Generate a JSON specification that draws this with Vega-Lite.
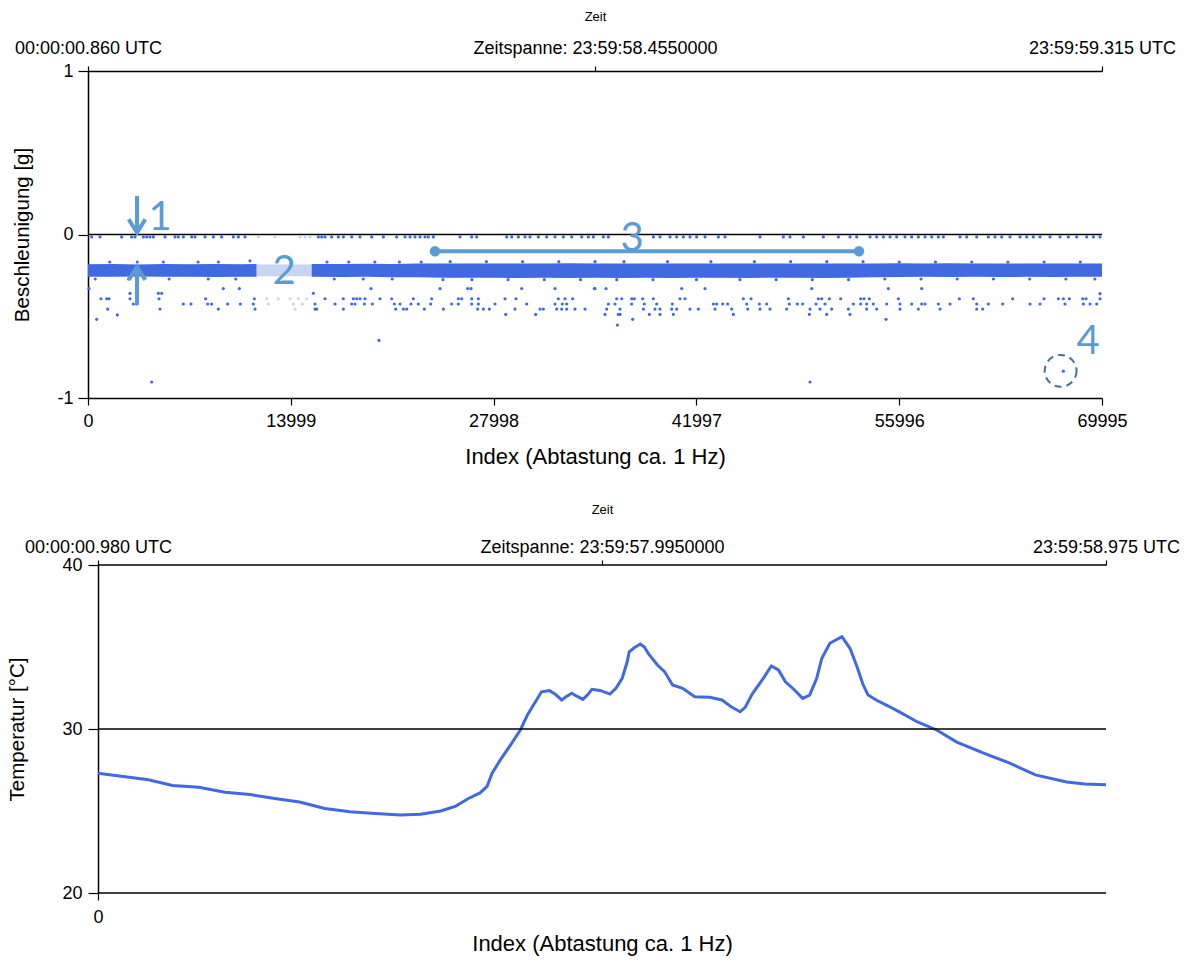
{
"$schema": "https://vega.github.io/schema/vega-lite/v6.json",
"background": "white",
"padding": {"left": 7, "top": 10, "right": 4, "bottom": 4},
"spacing": 35,
"config": {
  "view": {"stroke": null},
  "font": "Liberation Sans",
  "axis": {"labelFont": "Liberation Sans", "titleFont": "Liberation Sans", "labelColor": "#000", "titleColor": "#000", "tickColor": "#000", "domainColor": "#000", "titleFontWeight": "normal", "labelFontSize": 18, "titleFontSize": 22, "labelFlush": false, "labelOverlap": false, "labelLimit": 500, "domainWidth": 1.5, "tickWidth": 1.2, "gridColor": "#000", "gridWidth": 1.3, "gridOpacity": 1}
},
"datasets": {
  "span": [{"t": 0}, {"t": 1}],
  "zero": [{"i": 0, "i2": 69995, "v": 0}],
  "frame": [{"i": 0, "i2": 1000, "T": 20}, {"i": 0, "i2": 1000, "T": 30}, {"i": 0, "i2": 1000, "T": 40}],
  "band": [
    {"s":"a","i":0,"hi":-0.182,"lo":-0.258},{"s":"a","i":1750,"hi":-0.180,"lo":-0.259},{"s":"a","i":3500,"hi":-0.183,"lo":-0.257},{"s":"a","i":5250,"hi":-0.181,"lo":-0.259},{"s":"a","i":7000,"hi":-0.182,"lo":-0.258},{"s":"a","i":8750,"hi":-0.180,"lo":-0.260},{"s":"a","i":10500,"hi":-0.182,"lo":-0.258},{"s":"a","i":11645,"hi":-0.181,"lo":-0.258},
    {"s":"p","i":11645,"hi":-0.184,"lo":-0.256},{"s":"p","i":15440,"hi":-0.184,"lo":-0.256},
    {"s":"b","i":15440,"hi":-0.180,"lo":-0.259},{"s":"b","i":17500,"hi":-0.181,"lo":-0.260},{"s":"b","i":19250,"hi":-0.179,"lo":-0.259},{"s":"b","i":21000,"hi":-0.180,"lo":-0.261},{"s":"b","i":22750,"hi":-0.178,"lo":-0.262},{"s":"b","i":24500,"hi":-0.178,"lo":-0.265},{"s":"b","i":26250,"hi":-0.177,"lo":-0.264},{"s":"b","i":28000,"hi":-0.178,"lo":-0.265},{"s":"b","i":29750,"hi":-0.177,"lo":-0.266},{"s":"b","i":31500,"hi":-0.178,"lo":-0.265},{"s":"b","i":33250,"hi":-0.176,"lo":-0.266},{"s":"b","i":35000,"hi":-0.177,"lo":-0.265},{"s":"b","i":36750,"hi":-0.178,"lo":-0.266},{"s":"b","i":38500,"hi":-0.177,"lo":-0.265},{"s":"b","i":40250,"hi":-0.178,"lo":-0.266},{"s":"b","i":42000,"hi":-0.177,"lo":-0.264},{"s":"b","i":43750,"hi":-0.178,"lo":-0.265},{"s":"b","i":45500,"hi":-0.177,"lo":-0.266},{"s":"b","i":47250,"hi":-0.178,"lo":-0.264},{"s":"b","i":49000,"hi":-0.177,"lo":-0.265},{"s":"b","i":50750,"hi":-0.178,"lo":-0.266},{"s":"b","i":52500,"hi":-0.177,"lo":-0.264},{"s":"b","i":54250,"hi":-0.178,"lo":-0.262},{"s":"b","i":56000,"hi":-0.176,"lo":-0.260},{"s":"b","i":57750,"hi":-0.177,"lo":-0.259},{"s":"b","i":59500,"hi":-0.176,"lo":-0.260},{"s":"b","i":61250,"hi":-0.177,"lo":-0.259},{"s":"b","i":63000,"hi":-0.178,"lo":-0.260},{"s":"b","i":64750,"hi":-0.177,"lo":-0.259},{"s":"b","i":66500,"hi":-0.178,"lo":-0.260},{"s":"b","i":68250,"hi":-0.177,"lo":-0.259},{"s":"b","i":69995,"hi":-0.178,"lo":-0.259}
  ],
  "acc": [
    {"i":253,"v":-0.015},{"i":829,"v":-0.015},{"i":2324,"v":-0.015},{"i":3014,"v":-0.015},{"i":3245,"v":-0.015},{"i":3820,"v":-0.015},{"i":4050,"v":-0.015},{"i":4280,"v":-0.015},{"i":4510,"v":-0.015},{"i":5315,"v":-0.015},{"i":6006,"v":-0.015},{"i":6236,"v":-0.015},{"i":6581,"v":-0.015},{"i":7156,"v":-0.015},{"i":7386,"v":-0.015},{"i":8077,"v":-0.015},{"i":8652,"v":-0.015},{"i":9227,"v":-0.015},{"i":10032,"v":-0.015},{"i":10378,"v":-0.015},{"i":10838,"v":-0.015},
    {"i":11758,"v":-0.015,"c":"p"},{"i":12909,"v":-0.015,"c":"p"},{"i":14634,"v":-0.015,"c":"p"},{"i":14980,"v":-0.015,"c":"p"},{"i":15325,"v":-0.015,"c":"p"},
    {"i":15900,"v":-0.015},{"i":16130,"v":-0.015},{"i":16360,"v":-0.015},{"i":16820,"v":-0.015},{"i":17281,"v":-0.015},{"i":17626,"v":-0.015},{"i":18201,"v":-0.015},{"i":18776,"v":-0.015},{"i":19582,"v":-0.015},{"i":20387,"v":-0.015},{"i":21307,"v":-0.015},{"i":21883,"v":-0.015},{"i":22228,"v":-0.015},{"i":22573,"v":-0.015},{"i":22918,"v":-0.015},{"i":23263,"v":-0.015},{"i":23493,"v":-0.015},{"i":23838,"v":-0.015},{"i":25679,"v":-0.015},{"i":26485,"v":-0.015},{"i":26830,"v":-0.015},{"i":28901,"v":-0.015},{"i":29246,"v":-0.015},{"i":29706,"v":-0.015},{"i":30166,"v":-0.015},{"i":30511,"v":-0.015},{"i":31087,"v":-0.015},{"i":31662,"v":-0.015},{"i":32237,"v":-0.015},{"i":32812,"v":-0.015},{"i":33388,"v":-0.015},{"i":34078,"v":-0.015},{"i":34538,"v":-0.015},{"i":34883,"v":-0.015},{"i":35573,"v":-0.015},{"i":35919,"v":-0.015},{"i":39025,"v":-0.015},{"i":39485,"v":-0.015},{"i":40175,"v":-0.015},{"i":40636,"v":-0.015},{"i":41096,"v":-0.015},{"i":41556,"v":-0.015},{"i":42016,"v":-0.015},{"i":42591,"v":-0.015},{"i":43512,"v":-0.015},{"i":43972,"v":-0.015},{"i":46388,"v":-0.015},{"i":47999,"v":-0.015},{"i":48459,"v":-0.015},{"i":49379,"v":-0.015},{"i":50760,"v":-0.015},{"i":51795,"v":-0.015},{"i":52601,"v":-0.015},{"i":53061,"v":-0.015},{"i":53981,"v":-0.015},{"i":54442,"v":-0.015},{"i":54902,"v":-0.015},{"i":55362,"v":-0.015},{"i":55822,"v":-0.015},{"i":56397,"v":-0.015},{"i":56857,"v":-0.015},{"i":57317,"v":-0.015},{"i":57778,"v":-0.015},{"i":58238,"v":-0.015},{"i":58698,"v":-0.015},{"i":59044,"v":-0.015},{"i":60194,"v":-0.015},{"i":60654,"v":-0.015},{"i":61345,"v":-0.015},{"i":62150,"v":-0.015},{"i":62610,"v":-0.015},{"i":63071,"v":-0.015},{"i":63646,"v":-0.015},{"i":64336,"v":-0.015},{"i":64796,"v":-0.015},{"i":65256,"v":-0.015},{"i":65717,"v":-0.015},{"i":66407,"v":-0.015},{"i":67097,"v":-0.015},{"i":67672,"v":-0.015},{"i":68248,"v":-0.015},{"i":68938,"v":-0.015},{"i":69398,"v":-0.015},{"i":69858,"v":-0.015},
    {"i":1500,"v":-0.168},{"i":3400,"v":-0.168},{"i":5200,"v":-0.168},{"i":7600,"v":-0.168},{"i":9000,"v":-0.168},{"i":11183,"v":-0.161},{"i":16500,"v":-0.168},{"i":18000,"v":-0.168},{"i":19800,"v":-0.168},{"i":21500,"v":-0.168},{"i":23000,"v":-0.168},{"i":25000,"v":-0.166},{"i":27500,"v":-0.166},{"i":30000,"v":-0.166},{"i":32500,"v":-0.166},{"i":35000,"v":-0.166},{"i":37000,"v":-0.166},{"i":40000,"v":-0.166},{"i":43000,"v":-0.166},{"i":46000,"v":-0.166},{"i":48500,"v":-0.166},{"i":51000,"v":-0.166},{"i":53500,"v":-0.166},{"i":56000,"v":-0.168},{"i":58500,"v":-0.168},{"i":61000,"v":-0.168},{"i":63500,"v":-0.168},{"i":66000,"v":-0.168},{"i":68500,"v":-0.168},
    {"i":500,"v":-0.272},{"i":2800,"v":-0.272},{"i":5600,"v":-0.272},{"i":8300,"v":-0.272},{"i":10200,"v":-0.272},{"i":17000,"v":-0.272},{"i":19000,"v":-0.272},{"i":21000,"v":-0.272},{"i":24500,"v":-0.276},{"i":26500,"v":-0.276},{"i":29000,"v":-0.276},{"i":31500,"v":-0.276},{"i":34000,"v":-0.276},{"i":36500,"v":-0.276},{"i":39000,"v":-0.276},{"i":42000,"v":-0.276},{"i":45000,"v":-0.276},{"i":47500,"v":-0.276},{"i":50000,"v":-0.276},{"i":52500,"v":-0.276},{"i":55000,"v":-0.272},{"i":57500,"v":-0.272},{"i":60000,"v":-0.272},{"i":62500,"v":-0.272},{"i":65000,"v":-0.272},{"i":67500,"v":-0.272},{"i":69500,"v":-0.272},
    {"i":69,"v":-0.331},{"i":9342,"v":-0.331},{"i":10447,"v":-0.331},{"i":19536,"v":-0.331},{"i":24299,"v":-0.331},{"i":26208,"v":-0.331},{"i":26439,"v":-0.331},{"i":29936,"v":-0.331},{"i":32237,"v":-0.331},{"i":34953,"v":-0.331},
    {"i":2899,"v":-0.36},{"i":4855,"v":-0.36},{"i":5085,"v":-0.36},{"i":15555,"v":-0.36},
    {"i":897,"v":-0.393},{"i":1289,"v":-0.393},{"i":1450,"v":-0.393},{"i":2899,"v":-0.393},{"i":4901,"v":-0.393},{"i":8123,"v":-0.393},{"i":11482,"v":-0.393},{"i":16360,"v":-0.393},{"i":17626,"v":-0.393},{"i":18316,"v":-0.393},{"i":18546,"v":-0.393},{"i":18776,"v":-0.393},{"i":19121,"v":-0.393},{"i":20157,"v":-0.393},{"i":20962,"v":-0.393},{"i":22458,"v":-0.393},{"i":23723,"v":-0.393},{"i":25564,"v":-0.393},{"i":25794,"v":-0.393},{"i":26485,"v":-0.393},{"i":26945,"v":-0.393},{"i":28786,"v":-0.393},{"i":29545,"v":-0.393},{"i":32467,"v":-0.393},{"i":32927,"v":-0.393},{"i":33456,"v":-0.393},
    {"i":12333,"v":-0.393,"c":"p"},{"i":13139,"v":-0.393,"c":"p"},{"i":13944,"v":-0.393,"c":"p"},{"i":14520,"v":-0.393,"c":"p"},{"i":15095,"v":-0.393,"c":"p"},
    {"i":3129,"v":-0.425},{"i":3359,"v":-0.425},{"i":6581,"v":-0.425},{"i":7110,"v":-0.425},{"i":8261,"v":-0.425},{"i":8537,"v":-0.425},{"i":9641,"v":-0.425},{"i":10516,"v":-0.425},{"i":11413,"v":-0.425},{"i":15670,"v":-0.425},{"i":17051,"v":-0.425},{"i":18201,"v":-0.425},{"i":18431,"v":-0.425},{"i":19075,"v":-0.425},{"i":19628,"v":-0.425},{"i":21146,"v":-0.425},{"i":21537,"v":-0.425},{"i":22297,"v":-0.425},{"i":22803,"v":-0.425},{"i":23654,"v":-0.425},{"i":25104,"v":-0.425},{"i":25564,"v":-0.425},{"i":26485,"v":-0.425},{"i":26945,"v":-0.425},{"i":28095,"v":-0.425},{"i":30281,"v":-0.425},{"i":32237,"v":-0.425},{"i":32743,"v":-0.425},{"i":33042,"v":-0.425},
    {"i":12449,"v":-0.425,"c":"p"},{"i":14175,"v":-0.425,"c":"p"},{"i":14796,"v":-0.425,"c":"p"},
    {"i":1358,"v":-0.456},{"i":4970,"v":-0.456},{"i":8997,"v":-0.456},{"i":11528,"v":-0.456},{"i":15670,"v":-0.456},{"i":15785,"v":-0.456},{"i":17626,"v":-0.456},{"i":21238,"v":-0.456},{"i":21768,"v":-0.456},{"i":21998,"v":-0.456},{"i":23217,"v":-0.456},{"i":24529,"v":-0.456},{"i":26899,"v":-0.456},{"i":27290,"v":-0.456},{"i":27705,"v":-0.456},{"i":29476,"v":-0.456},{"i":31202,"v":-0.456},{"i":31432,"v":-0.456},{"i":32352,"v":-0.456},{"i":32697,"v":-0.456},{"i":33042,"v":-0.456},{"i":33618,"v":-0.456},{"i":34308,"v":-0.456},
    {"i":14289,"v":-0.456,"c":"p"},
    {"i":2025,"v":-0.492},{"i":28832,"v":-0.489},{"i":30903,"v":-0.489},{"i":598,"v":-0.519},{"i":20088,"v":-0.648},{"i":4395,"v":-0.902},
    {"i":34998,"v":-0.331},{"i":35757,"v":-0.331},{"i":40981,"v":-0.331},{"i":42591,"v":-0.331},{"i":49955,"v":-0.331},{"i":55247,"v":-0.331},{"i":57548,"v":-0.331},{"i":69858,"v":-0.362},
    {"i":36494,"v":-0.393},{"i":36839,"v":-0.393},{"i":37529,"v":-0.393},{"i":37713,"v":-0.393},{"i":38289,"v":-0.393},{"i":39025,"v":-0.393},{"i":40866,"v":-0.393},{"i":41211,"v":-0.393},{"i":45238,"v":-0.393},{"i":45767,"v":-0.393},{"i":48344,"v":-0.393},{"i":50415,"v":-0.393},{"i":50645,"v":-0.393},{"i":51174,"v":-0.393},{"i":51957,"v":-0.393},{"i":53337,"v":-0.393},{"i":53567,"v":-0.393},{"i":53935,"v":-0.393},{"i":55937,"v":-0.393},{"i":60148,"v":-0.393},{"i":61110,"v":-0.393},{"i":63830,"v":-0.393},{"i":65993,"v":-0.393},{"i":66982,"v":-0.393},{"i":67327,"v":-0.393},{"i":67741,"v":-0.393},{"i":68662,"v":-0.393},{"i":68892,"v":-0.393},{"i":69858,"v":-0.393},
    {"i":35919,"v":-0.425},{"i":36379,"v":-0.425},{"i":37529,"v":-0.425},{"i":38404,"v":-0.425},{"i":39255,"v":-0.425},{"i":40336,"v":-0.425},{"i":43167,"v":-0.425},{"i":43397,"v":-0.425},{"i":43811,"v":-0.425},{"i":44156,"v":-0.425},{"i":45468,"v":-0.425},{"i":46342,"v":-0.425},{"i":46849,"v":-0.425},{"i":48413,"v":-0.425},{"i":48965,"v":-0.425},{"i":49333,"v":-0.425},{"i":50254,"v":-0.425},{"i":50875,"v":-0.425},{"i":52831,"v":-0.425},{"i":53337,"v":-0.425},{"i":53751,"v":-0.425},{"i":54212,"v":-0.425},{"i":55132,"v":-0.425},{"i":56052,"v":-0.425},{"i":56858,"v":-0.425},{"i":57548,"v":-0.425},{"i":57778,"v":-0.425},{"i":58698,"v":-0.425},{"i":59504,"v":-0.425},{"i":61345,"v":-0.425},{"i":62150,"v":-0.425},{"i":63140,"v":-0.425},{"i":65026,"v":-0.425},{"i":65717,"v":-0.425},{"i":67442,"v":-0.425},{"i":68708,"v":-0.425},{"i":69168,"v":-0.425},{"i":69628,"v":-0.425},
    {"i":35804,"v":-0.456},{"i":36724,"v":-0.456},{"i":38335,"v":-0.456},{"i":39140,"v":-0.456},{"i":39485,"v":-0.456},{"i":40290,"v":-0.456},{"i":40636,"v":-0.456},{"i":41556,"v":-0.456},{"i":42131,"v":-0.456},{"i":43282,"v":-0.456},{"i":44432,"v":-0.456},{"i":45537,"v":-0.456},{"i":46388,"v":-0.456},{"i":47079,"v":-0.456},{"i":48229,"v":-0.456},{"i":49840,"v":-0.456},{"i":50530,"v":-0.456},{"i":51335,"v":-0.456},{"i":52486,"v":-0.456},{"i":53751,"v":-0.456},{"i":54442,"v":-0.456},{"i":56052,"v":-0.456},{"i":57317,"v":-0.456},{"i":58813,"v":-0.456},{"i":61345,"v":-0.456},{"i":61759,"v":-0.456},
    {"i":35688,"v":-0.489},{"i":36609,"v":-0.489},{"i":36724,"v":-0.489},{"i":38749,"v":-0.489},{"i":39485,"v":-0.489},{"i":40406,"v":-0.489},{"i":44547,"v":-0.489},{"i":49794,"v":-0.489},{"i":50990,"v":-0.489},{"i":52601,"v":-0.489},
    {"i":37598,"v":-0.519},{"i":55086,"v":-0.519},{"i":36540,"v":-0.554},{"i":49840,"v":-0.902},{"i":67326,"v":-0.836}
  ],
  "ann": [
    {"g":"a1s","o":1,"i":3382,"v":0.235},{"g":"a1s","o":2,"i":3382,"v":0.014},
    {"g":"a1h","o":1,"i":2809,"v":0.093},{"g":"a1h","o":2,"i":3382,"v":0.011},{"g":"a1h","o":3,"i":3955,"v":0.093},
    {"g":"a2s","o":1,"i":3382,"v":-0.43},{"g":"a2s","o":2,"i":3382,"v":-0.202},
    {"g":"a2h","o":1,"i":2809,"v":-0.278},{"g":"a2h","o":2,"i":3382,"v":-0.199},{"g":"a2h","o":3,"i":3955,"v":-0.278},
    {"g":"l3","o":1,"i":23953,"v":-0.102},{"g":"l3","o":2,"i":53222,"v":-0.102}
  ],
  "ends": [{"i":23953,"v":-0.102},{"i":53222,"v":-0.102}],
  "lbl": [{"t":"1","i":4970,"v":0.100},{"t":"2","i":13530,"v":-0.232},{"t":"3","i":37552,"v":-0.025},{"t":"4","i":69030,"v":-0.655}],
  "ring": [{"i":67140,"v":-0.834}],
  "temp": [
    {"i":0,"T":27.3},{"i":25,"T":27.1},{"i":50,"T":26.9},{"i":74,"T":26.55},{"i":100,"T":26.45},{"i":126,"T":26.15},{"i":151,"T":26.0},{"i":177,"T":25.75},{"i":200,"T":25.55},{"i":225,"T":25.15},{"i":250,"T":24.95},{"i":275,"T":24.85},{"i":300,"T":24.75},{"i":320,"T":24.8},{"i":340,"T":25.0},{"i":355,"T":25.3},{"i":367,"T":25.75},{"i":379,"T":26.1},{"i":386,"T":26.5},{"i":391,"T":27.3},{"i":399,"T":28.1},{"i":409,"T":29.0},{"i":419,"T":29.94},{"i":426,"T":30.85},{"i":432,"T":31.46},{"i":440,"T":32.27},{"i":448,"T":32.34},{"i":454,"T":32.1},{"i":460,"T":31.77},{"i":464,"T":31.95},{"i":470,"T":32.18},{"i":475,"T":32.0},{"i":481,"T":31.81},{"i":486,"T":32.1},{"i":490,"T":32.42},{"i":498,"T":32.35},{"i":508,"T":32.13},{"i":514,"T":32.5},{"i":520,"T":33.09},{"i":525,"T":34.1},{"i":527,"T":34.71},{"i":532,"T":34.95},{"i":538,"T":35.18},{"i":542,"T":35.0},{"i":546,"T":34.6},{"i":555,"T":33.9},{"i":562,"T":33.5},{"i":570,"T":32.68},{"i":580,"T":32.48},{"i":592,"T":31.97},{"i":607,"T":31.93},{"i":619,"T":31.77},{"i":629,"T":31.32},{"i":637,"T":31.05},{"i":642,"T":31.32},{"i":649,"T":32.13},{"i":660,"T":33.09},{"i":668,"T":33.84},{"i":675,"T":33.6},{"i":682,"T":32.88},{"i":691,"T":32.38},{"i":699,"T":31.87},{"i":706,"T":32.07},{"i":713,"T":33.09},{"i":718,"T":34.3},{"i":726,"T":35.23},{"i":738,"T":35.63},{"i":746,"T":34.92},{"i":753,"T":33.8},{"i":759,"T":32.7},{"i":764,"T":32.07},{"i":772,"T":31.77},{"i":784,"T":31.4},{"i":795,"T":31.04},{"i":813,"T":30.43},{"i":832,"T":29.94},{"i":852,"T":29.2},{"i":878,"T":28.54},{"i":904,"T":27.93},{"i":930,"T":27.2},{"i":961,"T":26.77},{"i":979,"T":26.65},{"i":1000,"T":26.6}
  ]
},
"vconcat": [
  {
    "width": 1014,
    "height": 327,
    "layer": [
      {
        "data": {"name": "span"},
        "mark": {"type": "point", "opacity": 0},
        "encoding": {
          "x": {"field": "t", "type": "quantitative", "scale": {"domain": [0, 1], "nice": false, "zero": false},
            "axis": {"orient": "top", "values": [0, 0.5, 1], "labelExpr": "datum.value == 0 ? '00:00:00.860 UTC' : (datum.value == 0.5 ? 'Zeitspanne: 23:59:58.4550000' : '23:59:59.315 UTC')", "title": "Zeit", "titleFontSize": 13, "tickSize": 5, "labelPadding": 8.3, "titlePadding": 16.3, "grid": false}}
        }
      },
      {
        "layer": [
          {
            "data": {"name": "band"},
            "mark": {"type": "area", "opacity": 1},
            "encoding": {
              "x": {"field": "i", "type": "quantitative", "scale": {"domain": [0, 69995], "nice": false, "zero": false},
                "axis": {"values": [0, 13999, 27998, 41997, 55996, 69995], "format": "d", "title": "Index (Abtastung ca. 1 Hz)", "tickSize": 7, "labelPadding": 7.7, "titlePadding": 15.8, "grid": false}},
              "y": {"field": "hi", "type": "quantitative", "stack": null, "scale": {"domain": [-1, 1], "nice": false, "zero": false},
                "axis": {"values": [-1, 0, 1], "labelExpr": "datum.value < -0.5 ? '-1' : (datum.value > 0.5 ? '1' : '0')", "grid": false, "tickSize": 10, "labelPadding": 5, "title": "Beschleunigung [g]", "titleFontSize": 20.5, "minExtent": 30, "maxExtent": 30, "titlePadding": 26}},
              "y2": {"field": "lo"},
              "color": {"field": "s", "type": "nominal", "scale": {"domain": ["a", "b", "p"], "range": ["#4169E1", "#4169E1", "#C9D3F2"]}, "legend": null}
            }
          },
          {
            "data": {"name": "zero"},
            "mark": {"type": "rule", "color": "#000", "strokeWidth": 1.4},
            "encoding": {
              "x": {"field": "i", "type": "quantitative"},
              "x2": {"field": "i2"},
              "y": {"field": "v", "type": "quantitative"}
            }
          },
          {
            "data": {"name": "acc"},
            "mark": {"type": "point", "filled": true, "size": 10, "opacity": 1},
            "encoding": {
              "x": {"field": "i", "type": "quantitative"},
              "y": {"field": "v", "type": "quantitative"},
              "color": {"condition": {"test": "datum.c == 'p'", "value": "#C9D3F2"}, "value": "#4169E1"}
            }
          },
          {
            "data": {"name": "ann"},
            "mark": {"type": "line", "color": "#5B9BD5", "strokeWidth": 4, "strokeJoin": "miter", "strokeCap": "butt"},
            "encoding": {
              "x": {"field": "i", "type": "quantitative"},
              "y": {"field": "v", "type": "quantitative"},
              "detail": {"field": "g"},
              "order": {"field": "o", "type": "quantitative"}
            }
          },
          {
            "data": {"name": "ends"},
            "mark": {"type": "point", "filled": true, "size": 110, "color": "#5B9BD5", "opacity": 1},
            "encoding": {
              "x": {"field": "i", "type": "quantitative"},
              "y": {"field": "v", "type": "quantitative"}
            }
          },
          {
            "data": {"name": "ring"},
            "mark": {"type": "point", "filled": false, "size": 1018, "stroke": "#41719C", "strokeWidth": 2, "strokeDash": [7, 5], "opacity": 1},
            "encoding": {
              "x": {"field": "i", "type": "quantitative"},
              "y": {"field": "v", "type": "quantitative"}
            }
          },
          {
            "data": {"name": "lbl"},
            "mark": {"type": "text", "font": "Lato", "fontSize": 40, "color": "#5B9BD5", "align": "center", "baseline": "middle"},
            "encoding": {
              "x": {"field": "i", "type": "quantitative"},
              "y": {"field": "v", "type": "quantitative"},
              "text": {"field": "t"}
            }
          }
        ]
      }
    ],
    "resolve": {"scale": {"x": "independent"}}
  },
  {
    "width": 1018,
    "height": 328,
    "layer": [
      {
        "data": {"name": "span"},
        "mark": {"type": "point", "opacity": 0},
        "encoding": {
          "x": {"field": "t", "type": "quantitative", "scale": {"domain": [-0.00992, 1], "nice": false, "zero": false},
            "axis": {"orient": "top", "values": [0, 0.5, 1], "labelExpr": "datum.value == 0 ? '00:00:00.980 UTC' : (datum.value == 0.5 ? 'Zeitspanne: 23:59:57.9950000' : '23:59:58.975 UTC')", "title": "Zeit", "titleFontSize": 13, "titleX": 514, "domain": false, "tickSize": 5, "labelPadding": 3.3, "titlePadding": 21.8, "grid": false}}
        }
      },
      {
        "layer": [
          {
            "data": {"name": "temp"},
            "mark": {"type": "line", "color": "#4169E1", "strokeWidth": 3},
            "encoding": {
              "x": {"field": "i", "type": "quantitative", "scale": {"domain": [-9.92, 1000], "nice": false, "zero": false},
                "axis": {"values": [0], "title": "Index (Abtastung ca. 1 Hz)", "titleX": 514, "domain": false, "tickSize": 7, "labelPadding": 8.7, "titlePadding": 6.8, "grid": false}},
              "y": {"field": "T", "type": "quantitative", "scale": {"domain": [20, 40], "nice": false, "zero": false},
                "axis": {"values": [20, 30, 40], "grid": false, "offset": -10, "tickSize": 10, "labelPadding": 6, "title": "Temperatur [°C]", "titleFontSize": 20.5, "minExtent": 30, "maxExtent": 30, "titlePadding": 41}}
            }
          },
          {
            "data": {"name": "frame"},
            "mark": {"type": "rule", "color": "#000", "strokeWidth": 1.4},
            "encoding": {
              "x": {"field": "i", "type": "quantitative", "scale": {"domain": [-9.92, 1000], "nice": false, "zero": false}},
              "x2": {"field": "i2"},
              "y": {"field": "T", "type": "quantitative"}
            }
          }
        ]
      }
    ],
    "resolve": {"scale": {"x": "independent"}}
  }
]
}
